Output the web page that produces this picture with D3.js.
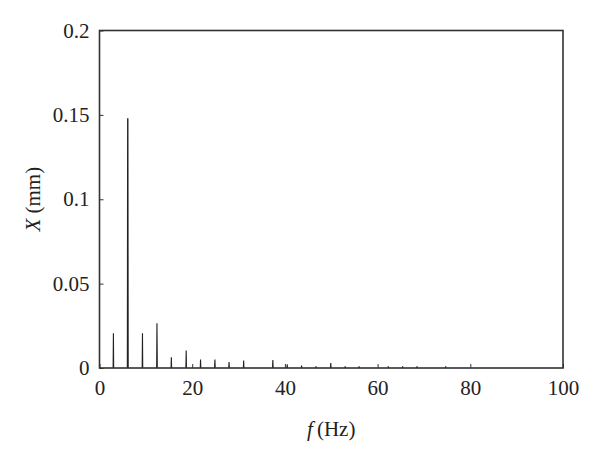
<!DOCTYPE html>
<html>
<head>
<meta charset="utf-8">
<script src="https://cdn.jsdelivr.net/npm/d3@7"></script>
<style>
  body { margin: 0; background: #fff; }
  text { font-family: "Liberation Serif", "DejaVu Serif", serif; fill: #222; }
</style>
</head>
<body>
<svg id="grafico"></svg>
<script>
// Frecuencias de los picos (Hz) y amplitudes (mm)
var frecuencias = [3.0, 6.1, 9.27, 12.4, 15.5, 18.7, 21.8, 24.9, 27.95, 31.1, 37.4, 40.5, 43.6, 46.7, 49.9, 53.0, 56.0, 62.3, 65.4, 68.5, 74.7];
var amplitudes = [0.0206, 0.148, 0.0206, 0.0265, 0.0063, 0.0103, 0.0051, 0.005, 0.0036, 0.0045, 0.0047, 0.0022, 0.0015, 0.001, 0.003, 0.001, 0.001, 0.001, 0.001, 0.001, 0.001];
var ticksX = [0, 20, 40, 60, 80, 100];
var ticksY = [0, 0.05, 0.1, 0.15, 0.2];

var anchura = 600, altura = 455;
var margen = { top: 30.5, right: 37, bottom: 87, left: 99.5 };

var svg = d3.select("#grafico")
    .attr("width", anchura)
    .attr("height", altura);

var x = d3.scaleLinear().domain([0, 100]).range([margen.left, anchura - margen.right]);
var y = d3.scaleLinear().domain([0, 0.2]).range([altura - margen.bottom, margen.top]);

//Ejes con marcas hacia dentro
svg.append("g")
    .attr("transform", "translate(0," + y(0) + ")")
    .call(d3.axisBottom(x).tickValues(ticksX).tickSize(-4).tickPadding(12).tickFormat(d3.format("d")))
    .call(g => g.select(".domain").remove())
    .call(g => g.selectAll("line").attr("stroke", "#333"))
    .call(g => g.selectAll("text").style("font-size", "21px").attr("dy", "0.71em"));

svg.append("g")
    .attr("transform", "translate(" + x(0) + ",0)")
    .call(d3.axisLeft(y).tickValues(ticksY).tickSize(-4).tickPadding(10).tickFormat(d => d === 0 ? "0" : String(d)))
    .call(g => g.select(".domain").remove())
    .call(g => g.selectAll("line").attr("stroke", "#333"))
    .call(g => g.selectAll("text").style("font-size", "21px"));

//Picos del espectro
var linea = d3.line().x(d => x(d[0])).y(d => y(d[1]));
frecuencias.forEach(function (f, i) {
    svg.append("path")
        .attr("d", linea([[f - 0.06, 0], [f, amplitudes[i]], [f + 0.06, 0]]))
        .attr("fill", "#222")
        .attr("stroke", "#222")
        .attr("stroke-width", i === 1 ? 1.4 : 1.1);
});

//Caja
svg.append("rect")
    .attr("x", x(0)).attr("y", y(0.2))
    .attr("width", x(100) - x(0)).attr("height", y(0) - y(0.2))
    .attr("fill", "none").attr("stroke", "#333").attr("stroke-width", 1.6);

//Títulos de ejes
svg.append("text")
    .attr("x", x(50)).attr("y", 436)
    .attr("text-anchor", "middle")
    .style("font-size", "21px")
    .call(t => {
        t.append("tspan").style("font-style", "italic").text("f");
        t.append("tspan").attr("dx", 4).text("(Hz)");
    });

svg.append("text")
    .attr("transform", "translate(40," + y(0.1) + ") rotate(-90)")
    .attr("text-anchor", "middle")
    .style("font-size", "21px")
    .call(t => {
        t.append("tspan").style("font-style", "italic").text("X");
        t.append("tspan").text(" (mm)");
    });
</script>
</body>
</html>
